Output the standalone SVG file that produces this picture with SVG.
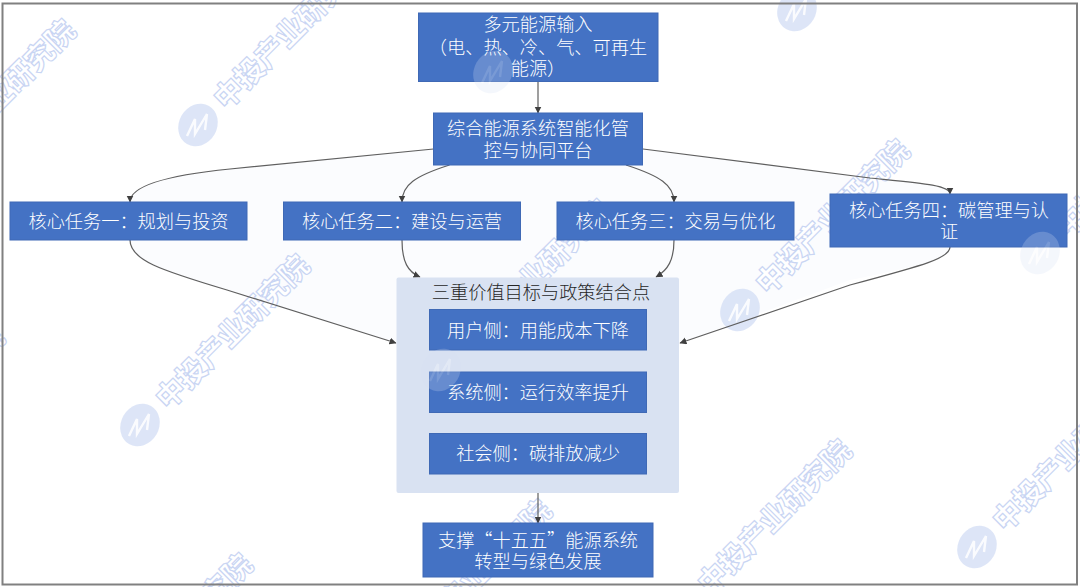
<svg xmlns="http://www.w3.org/2000/svg" width="1080" height="587" viewBox="0 0 1080 587">
<style>
.box{fill:#4472c4;stroke:#3f69b5;stroke-width:1}
.t{font-family:"Noto Sans CJK SC","Noto Sans",sans-serif;font-size:18.2px;font-weight:300;fill:#fff;text-anchor:middle;dominant-baseline:central}
.dark{fill:#262626}
.c{fill:none;stroke:#5f5f5f;stroke-width:1.2;marker-end:url(#arrow)}
.wt{font-family:"Noto Sans CJK SC","Noto Sans",sans-serif;font-size:29px;font-weight:900;fill:#fff;stroke:#c9d5f3;stroke-width:1.2}
.lg{fill:#d5def5;opacity:.8}
.sq{fill:none;stroke:#fff;stroke-width:2.4;opacity:.85}
.faint{opacity:.3}
</style>
<defs>
<marker id="arrow" markerUnits="userSpaceOnUse" markerWidth="8" markerHeight="8" refX="6.5" refY="3.500" orient="auto"><path d="M0 0L7 3.500L0 7z" fill="#404040"/></marker>
<g id="logo"><ellipse class="lg" rx="19" ry="22" transform="rotate(30)"/><path class="sq" d="M-11 11L-3 -6L-3 9L9 -11L7 5"/></g>
</defs>
<rect width="1080" height="587" fill="#fff"/>
<path id="tint" d="M433.500 149L230 169C170 175 130 185 130 202V240C130 260 160 270 227 290L396 343H680L850 280C925 265 950 258 950 247V192C950 185 920 183 870 178L643 149Z" fill="#fbfcfe"/>
<g id="watermark-text">
<text class="wt" transform="translate(226 111) rotate(-45)">中投产业研究院</text>
<text class="wt" transform="translate(-66 176) rotate(-45)">中投产业研究院</text>
<text class="wt" transform="translate(768 296) rotate(-45)">中投产业研究院</text>
<text class="wt" transform="translate(168 411) rotate(-45)">中投产业研究院</text>
<text class="wt" transform="translate(469 356) rotate(-45)">中投产业研究院</text>
<text class="wt" transform="translate(1005 533) rotate(-45)">中投产业研究院</text>
<text class="wt" transform="translate(1068 239) rotate(-45)">中投产业研究院</text>
<text class="wt" transform="translate(710 596) rotate(-45)">中投产业研究院</text>
<text class="wt" transform="translate(111 710) rotate(-45)">中投产业研究院</text>
<text class="wt" transform="translate(410 656) rotate(-45)">中投产业研究院</text>
<text class="wt" transform="translate(-137 483) rotate(-45)">中投产业研究院</text>
</g>
<g id="watermark-logos">
<use href="#logo" x="198" y="125"/>
<use href="#logo" x="797" y="10"/>
<use href="#logo" x="740" y="310"/>
<use href="#logo" x="140" y="425"/>
<use href="#logo" x="977" y="547"/>
</g>
<rect id="frame" x="2.500" y="3.500" width="1074.500" height="581" fill="none" stroke="#808080" stroke-width="2"/>
<g id="connectors">
<path class="c" d="M538 81.500V113"/>
<path class="c" d="M433.500 149L230 169C170 175 130 185 130 202"/>
<path class="c" d="M449.500 165C415 176 402 185 402 202"/>
<path class="c" d="M626 165C660 176 674 185 674 202"/>
<path class="c" d="M643 149L870 178C920 183 950 185 950 194"/>
<path class="c" d="M130 240C130 260 160 270 227 290L396 343"/>
<path class="c" d="M402 240C402 262 408 272 420 277"/>
<path class="c" d="M674 240C674 260 668 270 656 277"/>
<path class="c" d="M950 247C950 258 925 265 850 285L680 343"/>
<path class="c" d="M538 493V523"/>
</g>
<g id="node-input"><rect class="box" x="418.500" y="13" width="239.500" height="68.500"/><use class="faint" href="#logo" x="493" y="72"/><text class="t" x="538" y="23">多元能源输入</text><text class="t" x="538" y="46">（电、热、冷、气、可再生</text><text class="t" x="538" y="67">能源）</text></g>
<g id="node-platform"><rect class="box" x="433.500" y="113" width="209" height="52"/><text class="t" x="538" y="126.500">综合能源系统智能化管</text><text class="t" x="538" y="148.500">控与协同平台</text></g>
<g id="node-task1"><rect class="box" x="10" y="202" width="237" height="38"/><text class="t" x="128.500" y="219.500">核心任务一：规划与投资</text></g>
<g id="node-task2"><rect class="box" x="283.500" y="202" width="237" height="38"/><text class="t" x="402" y="219.500">核心任务二：建设与运营</text></g>
<g id="node-task3"><rect class="box" x="557" y="202" width="237" height="38"/><text class="t" x="675.500" y="219.500">核心任务三：交易与优化</text></g>
<g id="node-task4"><rect class="box" x="830" y="194" width="237" height="53"/><use class="faint" href="#logo" x="1040" y="253"/><text class="t" x="949" y="208.500">核心任务四：碳管理与认</text><text class="t" x="949" y="229.500">证</text></g>
<g id="node-values"><rect x="396.500" y="277.500" width="282.500" height="215.500" rx="2" fill="#d9e2f2"/><text class="t dark" x="541" y="290.500">三重价值目标与政策结合点</text></g>
<g id="node-user"><rect class="box" x="429.500" y="309.500" width="217" height="40.500"/><text class="t" x="538" y="328.500">用户侧：用能成本下降</text></g>
<g id="node-system"><rect class="box" x="429.500" y="372" width="217" height="40.500"/><use class="faint" href="#logo" x="441" y="370"/><text class="t" x="538" y="390.500">系统侧：运行效率提升</text></g>
<g id="node-society"><rect class="box" x="429.500" y="433.500" width="217" height="40.500"/><text class="t" x="538" y="451.500">社会侧：碳排放减少</text></g>
<g id="node-goal"><rect class="box" x="423" y="523" width="230" height="54"/><text class="t" x="538" y="538.500">支撑“十五五”能源系统</text><text class="t" x="538" y="559.500">转型与绿色发展</text></g>
</svg>
